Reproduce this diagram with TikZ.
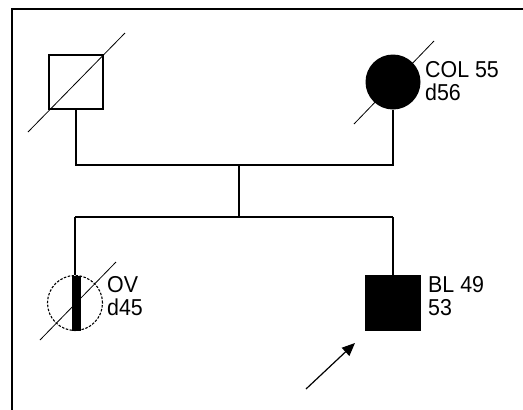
\documentclass[tikz,border=0pt]{standalone}
\usepackage{fontspec}
\setmainfont{Liberation Sans}
\usetikzlibrary{arrows.meta,positioning}

\begin{document}
\begin{tikzpicture}[x=1pt,y=-1pt,
    line/.style={line width=1.5pt},
    slash/.style={line width=0.8pt},
    male/.style={draw,line width=1.5pt,minimum size=54pt,inner sep=0pt},
    female/.style={circle,minimum size=55pt,inner sep=0pt},
    info/.style={anchor=north west,inner sep=0pt,align=left,xscale=0.93,
        font=\fontsize{23}{23}\selectfont}]
    \useasboundingbox (0,0) rectangle (523,410);
    \draw[line width=2pt] (12,410)--(12,9)--(523,9);
    % parents
    \node[male] (father) at (76,82) {};
    \draw[slash] ([shift={(-48,50)}]father.center)--([shift={(49,-49)}]father.center);
    \draw[slash] (354,124)--(434,41);
    \node[female,fill=black] (mother) at (393,82) {};
    \node[info] (motherinfo) at (425,61) {COL 55\\d56};
    \coordinate (mating) at (239,165);
    \coordinate (sibship) at (239,217);
    \draw[line] (father.south)--(father.south |- mating)--(mother.south |- mating)--(mother.south);
    \draw[line] (mating)--(sibship);
    % children
    \node[female,draw,line width=1.1pt,dash pattern=on 2.5pt off 1.5pt] (sister) at (75,303) {};
    \node[fill=black,minimum width=9pt,minimum height=55pt,inner sep=0pt] (sisterbar) at (76,303) {};
    \draw[slash] ([shift={(-35,37)}]sister.center)--([shift={(41,-41)}]sister.center);
    \node[info] (sisterinfo) at (107,276) {OV\\d45};
    \node[male,fill=black,minimum size=55pt] (proband) at (393,303) {};
    \node[info] (probandinfo) at (428,276) {BL 49\\53};
    \draw[line] (sister.north |- sibship)--(proband.north |- sibship);
    \draw[line] (sister.north |- sibship)--(sister.north);
    \draw[line] (proband.north |- sibship)--(proband.north);
    \coordinate (arrowtail) at (306,389);
    \draw[line width=1.2pt,-{Triangle[length=13pt,width=11pt]}] (arrowtail)--([shift={(-38,40)}]proband.center);
\end{tikzpicture}
\end{document}
